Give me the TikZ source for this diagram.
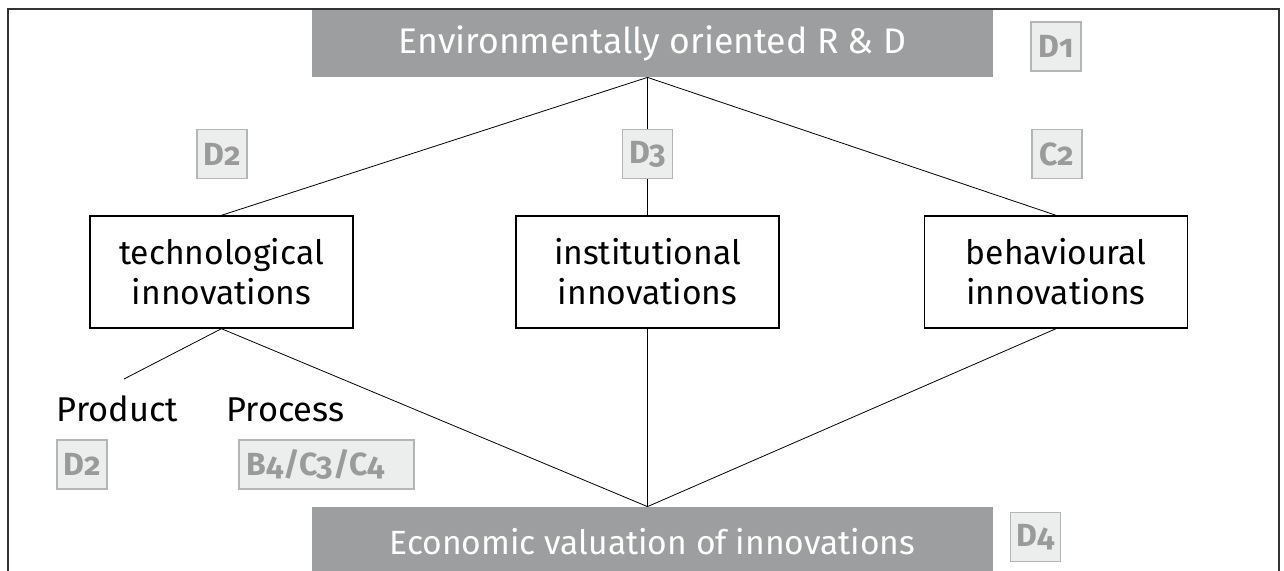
\documentclass[tikz,border=0pt]{standalone}
\usepackage{fontspec}
\setmainfont{Fira Sans}
\newfontfamily\tagfont[Numbers=OldStyle]{Fira Sans}
\usetikzlibrary{calc,positioning}
\definecolor{bandgrey}{HTML}{9D9EA0}
\definecolor{tagfill}{HTML}{ECEDED}
\definecolor{tagline}{HTML}{B5B5B5}
\definecolor{tagtext}{HTML}{9A9A9A}

\begin{document}
\begin{tikzpicture}[x=0.5pt,y=-0.5pt,
  band/.style={fill=bandgrey,text=white,minimum width=340.5pt,inner sep=0pt},
  innov/.style={draw,line width=0.7pt,minimum width=131.5pt,minimum height=56pt,align=center,inner sep=0pt,font=\fontsize{16.8}{20}\selectfont},
  tagbox/.style={draw=tagline,fill=tagfill,text=tagtext,line width=0.6pt,minimum width=25pt,minimum height=24.5pt,inner sep=1pt,font=\tagfont\bfseries\fontsize{16}{18}\selectfont},
  plain/.style={inner sep=0pt,font=\fontsize{17.2}{20}\selectfont}]
  \useasboundingbox (0,0) rectangle (1284,571);

  %% Frame, open at the bottom
  \draw[line width=0.8pt,black!80] (8,571) -- (8,9) -- (1279,9) -- (1279,571);

  %% Grey bands at top and bottom
  \node[band,minimum height=33.5pt,font=\fontsize{17.8}{20}\selectfont] (rd) at (652.5,43.5) {Environmentally oriented R \& D};
  \node[band,minimum height=35pt,font=\fontsize{16.8}{20}\selectfont] (econ) at (652.5,542) {Economic valuation of innovations};

  %% The three kinds of innovation
  \node[innov] (tech) at (221.5,272) {technological\\innovations};
  \node[innov] (inst) at (647.5,272) {institutional\\innovations};
  \node[innov] (beh)  at (1056,272)  {behavioural\\innovations};

  \node[plain,anchor=base] (prod) at (117.5,422) {Product};
  \node[plain,anchor=base] (proc) at (285.5,422) {Process};

  %% Chapter tags
  \node[tagbox] (d1)  at (1056,46.5)   {D1};
  \node[tagbox] (d2)  at (222,154)     {D2};
  \node[tagbox] (d3)  at (647.5,154)   {D3};
  \node[tagbox] (c2)  at (1057,154)    {C2};
  \node[tagbox] (d2b) at (82,464.5)    {D2};
  \node[tagbox,minimum width=87.5pt,text width=80pt,align=left] (b4) at (326.5,464.5) {B4/C3/C4};
  \node[tagbox] (d4)  at (1035.5,537)  {D4};

  %% Connecting lines
  \coordinate (top) at (inst |- rd.south);
  \coordinate (bot) at (inst |- econ.north);
  \coordinate (prodend) at (124,379);
  \draw (top) -- (tech.north);
  \draw (top) -- (d3.north);
  \draw (d3.south) -- (inst.north);
  \draw (top) -- (beh.north);
  \draw (tech.south) -- (prodend);
  \draw (tech.south) -- (bot);
  \draw (inst.south) -- (bot);
  \draw (beh.south) -- (bot);
\end{tikzpicture}
\end{document}
